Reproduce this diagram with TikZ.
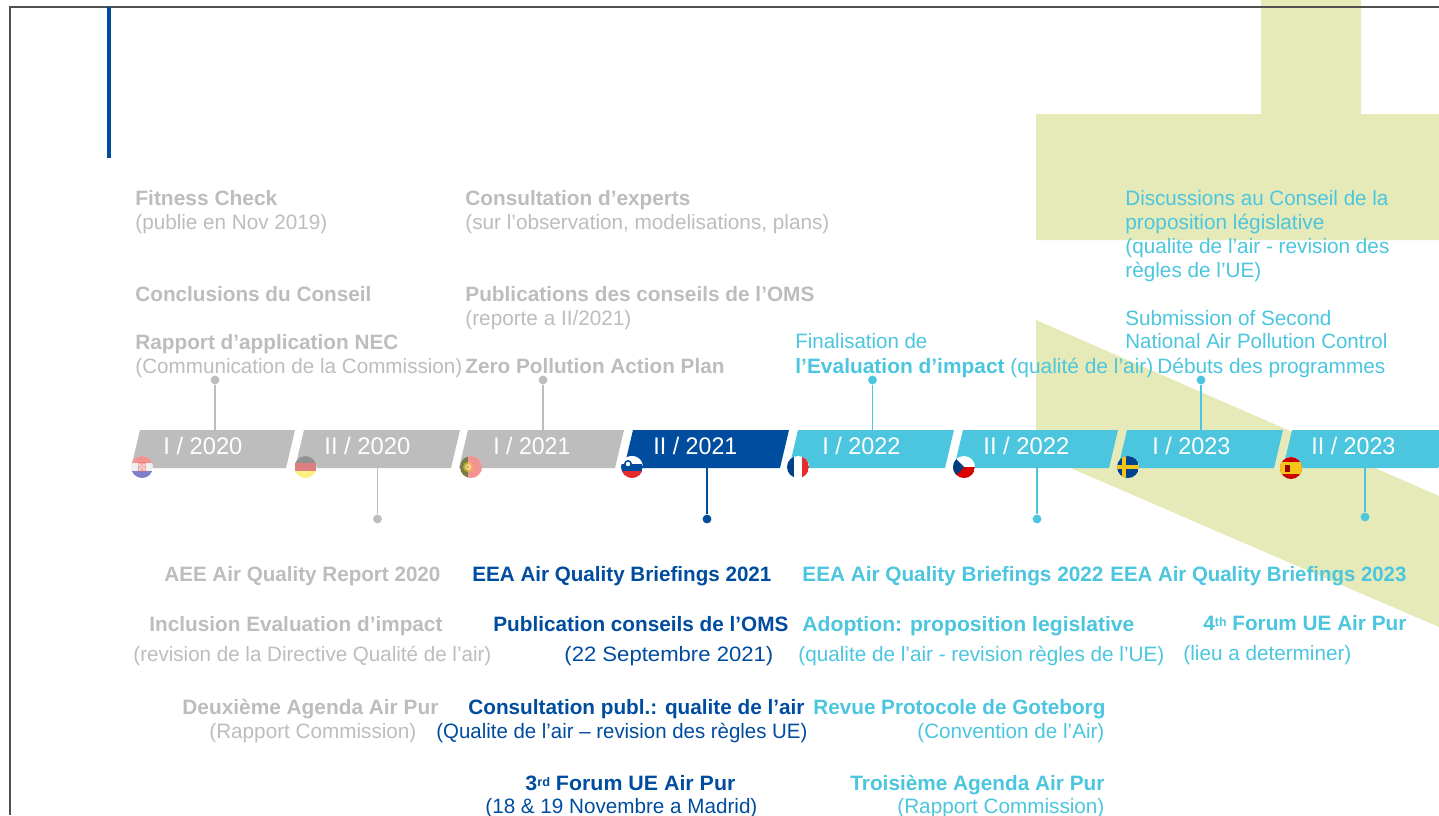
\documentclass[tikz,border=0pt]{standalone}
\usepackage{fontspec}
\usepackage{graphicx}
\setmainfont{Liberation Sans}
\definecolor{cgray}{HTML}{BDBDBD}
\definecolor{cnavy}{HTML}{004C9F}
\definecolor{ccyan}{HTML}{4BC6DE}
\definecolor{cgreen}{HTML}{E6EAB8}
\definecolor{cframe}{HTML}{505050}
\definecolor{cred}{HTML}{E62B2B}
\definecolor{cyel}{HTML}{F5C518}
\newcommand{\lab}[6]{%
  \pgfmathsetmacro{\labw}{(#3-#2)*0.5}%
  \node[anchor=base west,inner sep=0pt,text=#5] (#1) at (#2,#4) {\resizebox{\labw pt}{\height}{#6}};}
\newcommand{\yr}[1]{\fontsize{12}{14}\selectfont #1}
\newcommand{\bfl}[1]{\textbf{#1}}
\newcommand{\supr}[1]{\raisebox{2pt}{\fontsize{6.2}{7}\selectfont #1}}
\newcommand{\sopen}[2]{\begin{scope}[shift={(#1,#2)}]\fill[white] (0,0) circle (11);\clip (0,0) circle (11);}
\tikzset{
  x=0.5pt,y=-0.5pt,
  every node/.style={font=\fontsize{10.4}{12}\selectfont},
  dot/.style={circle,inner sep=0pt,minimum size=4.4pt,fill=#1,draw=none},
  pin/.style={draw=#1,line width=0.75pt},
  bar/.style={fill=#1,draw=none}
}
\begin{document}
\begin{tikzpicture}
\useasboundingbox (0,0) rectangle (1439,815);
\fill[white] (0,0) rectangle (1439,815);
% green background
\fill[cgreen] (1261,0) -- (1361,0) -- (1361,114) -- (1439,114) -- (1439,240) -- (1036,240) -- (1036,114) -- (1261,114) -- cycle;
\fill[cgreen] (1036,320) -- (1439,496) -- (1439,627) -- (1237,540) -- (1073,469) -- (1036,453) -- cycle;
% frame
\draw[cframe,line width=1pt] (1439,7) -- (10,7) -- (10,815);
\fill[cnavy] (106.5,7) rectangle (110.5,158);
% bars
\coordinate (b1t) at (215,430);\coordinate (b2b) at (377.5,468);\coordinate (b3t) at (543,430);\coordinate (b4b) at (707,468);
\coordinate (b5t) at (872.5,430);\coordinate (b6b) at (1037,468);\coordinate (b7t) at (1201,430);\coordinate (b8b) at (1365,468);
\node[dot=cgray] (d1) at (215,380) {};\draw[pin=cgray] (d1) -- (b1t);
\node[dot=cgray] (d2) at (377.5,519) {};\draw[pin=cgray] (d2) -- (b2b);
\node[dot=cgray] (d3) at (543,380) {};\draw[pin=cgray] (d3) -- (b3t);
\node[dot=cnavy] (d4) at (707,519) {};\draw[pin=cnavy] (d4) -- (b4b);
\node[dot=ccyan] (d5) at (872.5,380) {};\draw[pin=ccyan] (d5) -- (b5t);
\node[dot=ccyan] (d6) at (1037,519) {};\draw[pin=ccyan] (d6) -- (b6b);
\node[dot=ccyan] (d7) at (1201,380) {};\draw[pin=ccyan] (d7) -- (b7t);
\node[dot=ccyan] (d8) at (1365,517) {};\draw[pin=ccyan] (d8) -- (b8b);
\fill[bar=cgray] (140,430) -- (295,430) -- (286,468) -- (131,468) -- cycle;
\fill[bar=cgray] (304,430) -- (460,430) -- (451,468) -- (295,468) -- cycle;
\fill[bar=cgray] (468,430) -- (624,430) -- (615,468) -- (459,468) -- cycle;
\fill[bar=cnavy] (633,430) -- (789,430) -- (780,468) -- (624,468) -- cycle;
\fill[bar=ccyan] (798,430) -- (954,430) -- (945,468) -- (789,468) -- cycle;
\fill[bar=ccyan] (963,430) -- (1118,430) -- (1109,468) -- (954,468) -- cycle;
\fill[bar=ccyan] (1127,430) -- (1283,430) -- (1274,468) -- (1118,468) -- cycle;
\fill[bar=ccyan] (1292,430) -- (1439,430) -- (1439,466) -- (1438,468) -- (1283,468) -- cycle;
% year labels
\lab{y1}{163}{242}{454}{white}{\yr{I / 2020}}
\lab{y2}{324}{410}{454}{white}{\yr{II / 2020}}
\lab{y3}{493}{570}{454}{white}{\yr{I / 2021}}
\lab{y4}{653}{737}{454}{white}{\yr{II / 2021}}
\lab{y5}{822}{900}{454}{white}{\yr{I / 2022}}
\lab{y6}{983}{1069}{454}{white}{\yr{II / 2022}}
\lab{y7}{1152}{1230}{454}{white}{\yr{I / 2023}}
\lab{y8}{1311}{1395}{454}{white}{\yr{II / 2023}}
% flags
\sopen{142}{467}\begin{scope}[opacity=.5]
\fill[cred] (-11,-11) rectangle (11,-4);\fill[black!12] (-11,-4) rectangle (11,4);\fill[blue!60!black] (-11,4) rectangle (11,11);
\fill[cred!70] (-4,-5) rectangle (4,5);\fill[white] (-3,-3) rectangle (-1,-1) (1,-3) rectangle (3,-1) (-1,-1) rectangle (1,1) (-3,1) rectangle (-1,3) (1,1) rectangle (3,3);
\end{scope}\end{scope}
\sopen{305.5}{467}\begin{scope}[opacity=.5]
\fill[black!85] (-11,-11) rectangle (11,-4);\fill[red!75!black] (-11,-4) rectangle (11,4);\fill[yellow!85!orange] (-11,4) rectangle (11,11);
\end{scope}\end{scope}
\sopen{471}{467}\begin{scope}[opacity=.5]
\fill[cred] (-11,-11) rectangle (11,11);\fill[green!40!black] (-11,-11) rectangle (-3,11);
\fill[yellow!80!orange] (-3,0) circle (5);\fill[white] (-3,0) circle (3);\fill[cred] (-3,0) circle (1.2);
\end{scope}\end{scope}
\sopen{632}{467}
\fill[white] (-11,-11) rectangle (11,-3);\fill[cnavy] (-11,-3) rectangle (11,4);\fill[cred] (-11,4) rectangle (11,11);
\fill[cnavy] (-4,-3) circle (4);\fill[white] (-4,-3) circle (2.2);
\end{scope}
\sopen{798}{467}
\fill[cnavy!85!black] (-11,-11) rectangle (-3.7,11);\fill[cred] (3.7,-11) rectangle (11,11);
\end{scope}
\sopen{964}{467}
\fill[red!85!black] (-11,0) rectangle (11,11);\fill[cnavy!80!black] (-11,-11) -- (0,0) -- (-11,11) -- cycle;
\end{scope}
\sopen{1128}{467}
\fill[cnavy!90!black] (-11,-11) rectangle (11,11);\fill[cyel] (-11,-2) rectangle (11,2);\fill[cyel] (-6,-11) rectangle (-2,11);
\end{scope}
\sopen{1291}{468}
\fill[red!80!black] (-11,-11) rectangle (11,11);\fill[cyel] (-11,-6) rectangle (11,6);
\fill[red!60!black] (-6,-3) rectangle (-1,4);
\end{scope}
% upper texts
\lab{t1}{135}{277}{205}{cgray}{\bfl{Fitness Check}}
\lab{t2}{135}{327}{229}{cgray}{(publie en Nov 2019)}
\lab{t3}{465}{690}{205}{cgray}{\bfl{Consultation d’experts}}
\lab{t4}{465}{829}{229}{cgray}{(sur l’observation, modelisations, plans)}
\lab{t5}{135}{371}{301}{cgray}{\bfl{Conclusions du Conseil}}
\lab{t6}{465}{814}{301}{cgray}{\bfl{Publications des conseils de l’OMS}}
\lab{t7}{465}{631}{325}{cgray}{(reporte a II/2021)}
\lab{t8}{135}{398}{349}{cgray}{\bfl{Rapport d’application NEC}}
\lab{t9}{135}{462}{373}{cgray}{(Communication de la Commission)}
\lab{t10}{465}{724}{373}{cgray}{\bfl{Zero Pollution Action Plan}}
\lab{t11}{795}{927}{348}{ccyan}{Finalisation de}
\lab{t12}{795}{1153}{373}{ccyan}{\bfl{l’Evaluation d’impact} (qualité de l’air)}
\lab{t13}{1157}{1385}{373}{ccyan}{Débuts des programmes}
\lab{t14}{1125}{1388}{205}{ccyan}{Discussions au Conseil de la}
\lab{t15}{1125}{1324}{229}{ccyan}{proposition législative}
\lab{t16}{1125}{1389}{253}{ccyan}{(qualite de l’air - revision des}
\lab{t17}{1125}{1261}{277}{ccyan}{règles de l’UE)}
\lab{t18}{1125}{1331}{325}{ccyan}{Submission of Second}
\lab{t19}{1125}{1387}{348}{ccyan}{National Air Pollution Control}
% lower texts
\lab{u1}{164}{440}{581}{cgray}{\bfl{AEE Air Quality Report 2020}}
\lab{u2}{472}{771}{581}{cnavy}{\bfl{EEA Air Quality Briefings 2021}}
\lab{u3}{802}{1103}{581}{ccyan}{\bfl{EEA Air Quality Briefings 2022}}
\lab{u4}{1110}{1406}{581}{ccyan}{\bfl{EEA Air Quality Briefings 2023}}
\lab{u5}{149}{442}{631}{cgray}{\bfl{Inclusion Evaluation d’impact}}
\lab{u6}{493}{788}{631}{cnavy}{\bfl{Publication conseils de l’OMS}}
\lab{u7}{802}{1134}{631}{ccyan}{\bfl{Adoption: proposition legislative}}
\lab{u8}{1203}{1406}{630}{ccyan}{\bfl{4\supr{th} Forum UE Air Pur}}
\lab{u9}{133}{491}{661}{cgray}{(revision de la Directive Qualité de l’air)}
\lab{u10}{564}{773}{661}{cnavy}{(22 Septembre 2021)}
\lab{u11}{798}{1164}{661}{ccyan}{(qualite de l’air - revision règles de l’UE)}
\lab{u12}{1183}{1351}{660}{ccyan}{(lieu a determiner)}
\lab{u13}{182}{438}{714}{cgray}{\bfl{Deuxième Agenda Air Pur}}
\lab{u14}{468}{804}{714}{cnavy}{\bfl{Consultation publ.: qualite de l’air}}
\lab{u15}{813}{1105}{714}{ccyan}{\bfl{Revue Protocole de Goteborg}}
\lab{u16}{209}{416}{738}{cgray}{(Rapport Commission)}
\lab{u17}{436}{807}{738}{cnavy}{(Qualite de l’air – revision des règles UE)}
\lab{u18}{917}{1104}{738}{ccyan}{(Convention de l’Air)}
\lab{u19}{525}{735}{790}{cnavy}{\bfl{3\supr{rd} Forum UE Air Pur}}
\lab{u20}{850}{1104}{790}{ccyan}{\bfl{Troisième Agenda Air Pur}}
\lab{u21}{485}{757}{813}{cnavy}{(18 \& 19 Novembre a Madrid)}
\lab{u22}{897}{1104}{813}{ccyan}{(Rapport Commission)}
\end{tikzpicture}
\end{document}
